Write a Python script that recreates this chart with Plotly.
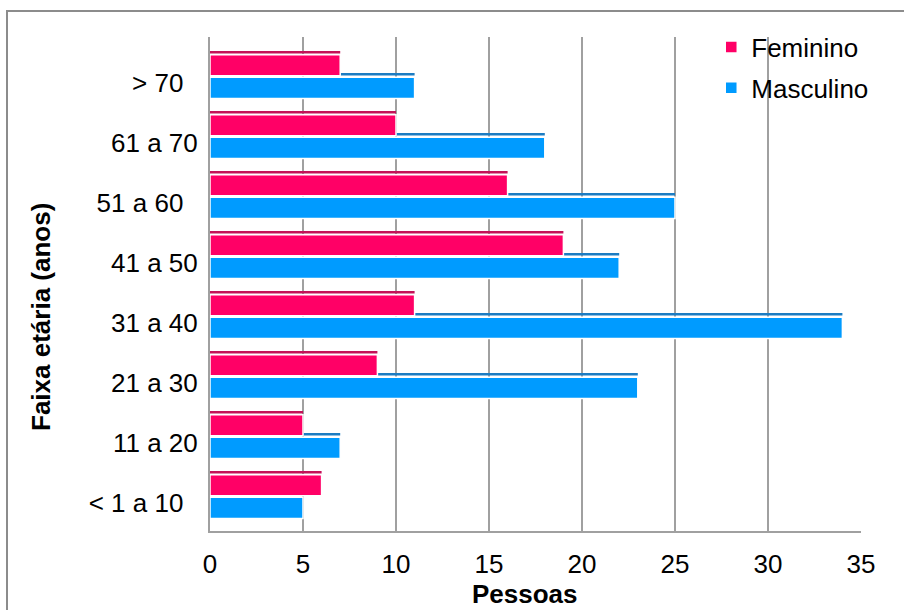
import plotly.graph_objects as go

# Age bands (bottom to top) and head counts per sex
faixas = ["< 1 a 10", "11 a 20", "21 a 30", "31 a 40", "41 a 50", "51 a 60", "61 a 70", "> 70"]
feminino = [6, 5, 9, 11, 19, 16, 10, 7]
masculino = [5, 7, 23, 34, 22, 25, 18, 11]
x_ticks = [0, 5, 10, 15, 20, 25, 30, 35]

NBSP = "\u00a0"
tick_text = [
    "< 1 a 10" + NBSP * 2, "11 a 20", "21 a 30", "31 a 40",
    "41 a 50", "51 a 60" + NBSP * 2, "61 a 70", "> 70" + NBSP * 2,
]

PINK = "#FF0066"
PINK_TOP = "#C41258"
BLUE = "#009BFF"
BLUE_TOP = "#1C7CC2"
GRID = "#A0A0A0"
FONT = "Arial, Liberation Sans, sans-serif"

pos = list(range(len(faixas)))

fig = go.Figure()

# thin top faces (pseudo-3D edge) drawn first so the front faces overlap them
fig.add_trace(go.Bar(
    y=pos, x=feminino, orientation="h", offset=0.492, width=0.042,
    marker=dict(color=PINK_TOP, line=dict(width=0)), showlegend=False, hoverinfo="skip",
))
fig.add_trace(go.Bar(
    y=pos, x=masculino, orientation="h", offset=0.125, width=0.042,
    marker=dict(color=BLUE_TOP, line=dict(width=0)), showlegend=False, hoverinfo="skip",
))
# front faces
fig.add_trace(go.Bar(
    y=pos, x=feminino, orientation="h", offset=0.121, width=0.35, name="Feminino",
    marker=dict(color=PINK, line=dict(color="white", width=1.5)), legendgroup="f",
))
fig.add_trace(go.Bar(
    y=pos, x=masculino, orientation="h", offset=-0.257, width=0.353, name="Masculino",
    marker=dict(color=BLUE, line=dict(color="white", width=1.5)), legendgroup="m",
))

fig.update_layout(
    width=904, height=610, autosize=False,
    margin=dict(l=210, r=43, t=37, b=79),
    barmode="overlay",
    paper_bgcolor="white", plot_bgcolor="white",
    font=dict(family=FONT, size=26, color="black"),
    legend=dict(
        x=0.770, y=1.027, xanchor="left", yanchor="top",
        traceorder="grouped", tracegroupgap=4,
        font=dict(size=26), bgcolor="rgba(0,0,0,0)",
    ),
    xaxis=dict(
        range=[0, 35], tickvals=x_ticks, ticks="", showgrid=True,
        gridcolor=GRID, gridwidth=2, showline=True, linecolor=GRID, linewidth=2,
        zeroline=False, ticklabelstandoff=9, tickfont=dict(size=26),
    ),
    yaxis=dict(
        range=[-0.4667, 7.7667], tickvals=pos, ticktext=tick_text, ticks="",
        showgrid=False, showline=True, linecolor=GRID, linewidth=2,
        zeroline=False, ticklabelstandoff=5, tickfont=dict(size=26),
    ),
    annotations=[
        dict(text="<b>Pessoas</b>", xref="paper", yref="paper",
             x=(525 - 210) / 651, y=(531 - 594) / 494,
             xanchor="center", yanchor="middle", showarrow=False,
             font=dict(size=26)),
        dict(text="<b>Faixa etária (anos)</b>", xref="paper", yref="paper",
             x=(41 - 210) / 651, y=(531 - 317) / 494, textangle=-90,
             xanchor="center", yanchor="middle", showarrow=False,
             font=dict(size=26)),
    ],
    shapes=[
        # chart frame
        dict(type="rect", xref="paper", yref="paper",
             x0=(7 - 210) / 651, x1=(920 - 210) / 651,
             y0=(531 - 630) / 494, y1=(531 - 11) / 494,
             line=dict(color="#8C8C8C", width=2), layer="below"),
    ],
)

fig.write_html("out.html")
